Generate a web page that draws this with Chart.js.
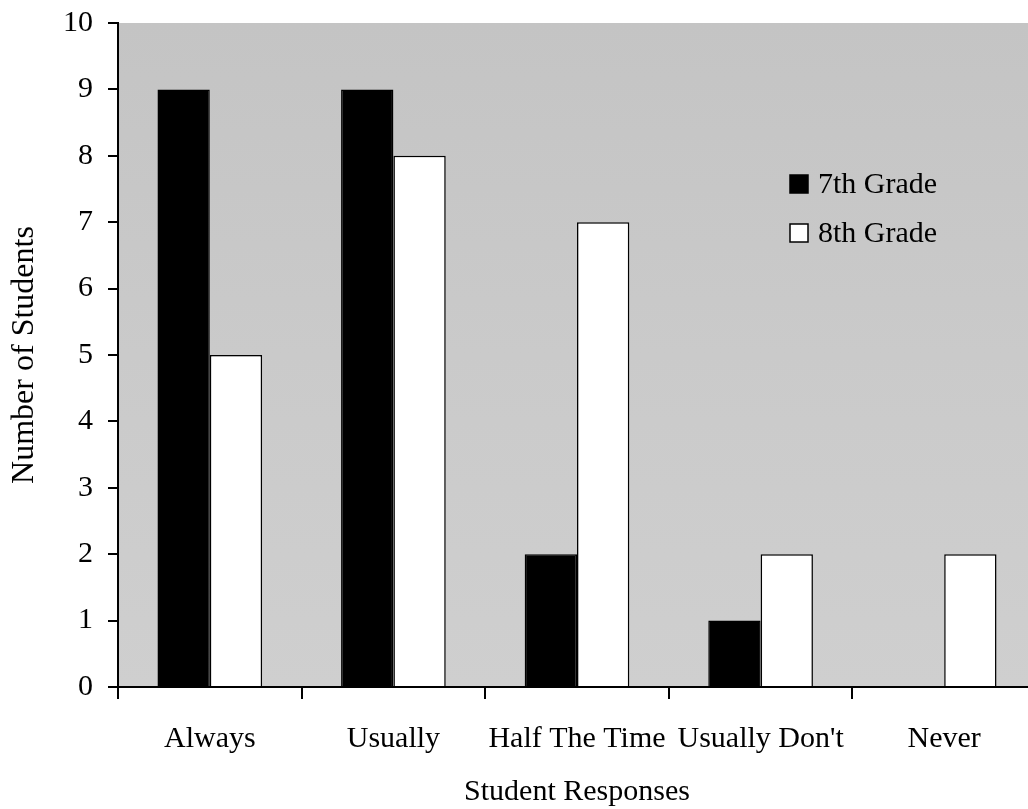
<!DOCTYPE html>
<html>
<head>
<meta charset="utf-8">
<script src="https://cdn.jsdelivr.net/npm/chart.js@4.4.1/dist/chart.umd.min.js"></script>
<style>
  html, body { margin: 0; padding: 0; background: #ffffff; overflow: hidden; width: 1028px; height: 809px; }
  #wrap { position: absolute; left: 0; top: 0; width: 1036px; height: 809px; }
  canvas { display: block; }
</style>
</head>
<body>
<div id="wrap"><canvas id="c" width="1036" height="809"></canvas></div>
<script>
const categories = ["Always", "Usually", "Half The Time", "Usually Don't", "Never"];
const grade7 = [9, 9, 2, 1, 0];
const grade8 = [5, 8, 7, 2, 2];
const seriesNames = ["7th Grade", "8th Grade"];
const yTicks = [0, 1, 2, 3, 4, 5, 6, 7, 8, 9, 10];

const FONT = "'Liberation Serif', 'Times New Roman', serif";

const plotBg = {
  id: 'plotBg',
  beforeDraw(chart) {
    const {ctx, chartArea: a} = chart;
    ctx.save();
    const g = ctx.createLinearGradient(0, a.top, 0, a.bottom);
    g.addColorStop(0, '#c4c4c4');
    g.addColorStop(0.5, '#cacaca');
    g.addColorStop(1, '#cfcfcf');
    ctx.fillStyle = g;
    ctx.fillRect(a.left, a.top, a.right - a.left, a.bottom - a.top);
    ctx.restore();
  }
};

const customLegend = {
  id: 'customLegend',
  afterDraw(chart) {
    const {ctx} = chart;
    const items = chart.data.datasets;
    ctx.save();
    ctx.font = '30px ' + FONT;
    ctx.textBaseline = 'middle';
    ctx.textAlign = 'left';
    items.forEach((ds, i) => {
      const x = 790, y = 184 + i * 49;
      ctx.fillStyle = ds.backgroundColor;
      ctx.fillRect(x, y - 9, 18, 18);
      ctx.strokeStyle = '#000';
      ctx.lineWidth = 1.5;
      ctx.strokeRect(x, y - 9, 18, 18);
      ctx.fillStyle = '#000';
      ctx.fillText(ds.label, x + 28, y + 1);
    });
    ctx.restore();
  }
};

new Chart(document.getElementById('c'), {
  type: 'bar',
  data: {
    labels: categories,
    datasets: [
      { label: seriesNames[0], data: grade7, backgroundColor: '#000000', borderColor: '#000000', borderWidth: 1.5 },
      { label: seriesNames[1], data: grade8, backgroundColor: '#ffffff', borderColor: '#000000', borderWidth: 1.5 }
    ]
  },
  options: {
    responsive: false,
    animation: false,
    layout: { padding: { top: 23, right: 0, left: 0, bottom: 0 } },
    datasets: { bar: { categoryPercentage: 0.57, barPercentage: 1.0 } },
    plugins: { legend: { display: false }, tooltip: { enabled: false } },
    scales: {
      x: {
        grid: { display: true, offset: true, drawOnChartArea: false, drawTicks: true, tickLength: 12, color: '#000', lineWidth: 2 },
        border: { display: true, color: '#000', width: 2 },
        ticks: { color: '#000', font: { family: FONT, size: 30 }, padding: 22, maxRotation: 0, autoSkip: false },
        title: { display: true, text: 'Student Responses', color: '#000', font: { family: FONT, size: 30, lineHeight: 1.1 }, padding: { top: 0, bottom: 0 } },
        afterFit(scale) { scale.height = 122; scale.paddingLeft = 0; scale.paddingRight = 0; }
      },
      y: {
        min: 0, max: 10,
        afterBuildTicks(scale) { scale.ticks = yTicks.map(v => ({ value: v })); },
        grid: { display: true, drawOnChartArea: false, drawTicks: true, tickLength: 10, color: '#000', lineWidth: 2 },
        border: { display: true, color: '#000', width: 2 },
        ticks: { color: '#000', font: { family: FONT, size: 30 }, padding: 15 },
        title: { display: true, text: 'Number of Students', color: '#000', font: { family: FONT, size: 32 }, padding: { top: 5, bottom: 0 } },
        afterFit(scale) { scale.width = 118; scale.paddingTop = 0; scale.paddingBottom = 0; }
      }
    }
  },
  plugins: [plotBg, customLegend]
});
</script>
</body>
</html>
